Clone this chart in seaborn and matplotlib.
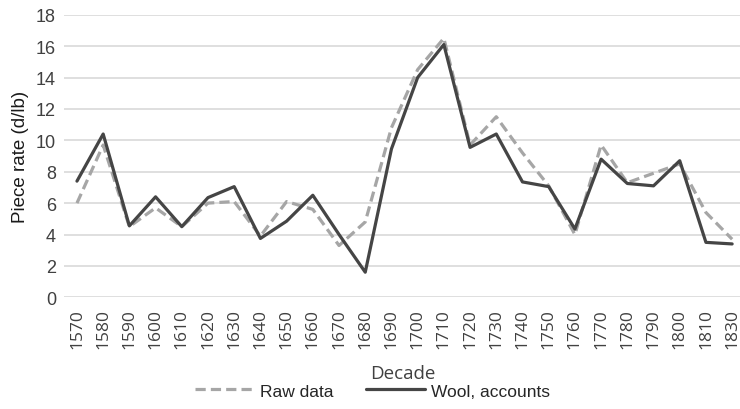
import matplotlib
matplotlib.use("Agg")
import matplotlib.pyplot as plt
import seaborn as sns
import pandas as pd

decades = ['1570', '1580', '1590', '1600', '1610', '1620', '1630', '1640', '1650',
           '1660', '1670', '1680', '1690', '1700', '1710', '1720', '1730', '1740',
           '1750', '1760', '1770', '1780', '1790', '1800', '1810', '1830']
raw_data = [6.0, 9.7, 4.5, 5.7, 4.5, 6.0, 6.1, 3.9, 6.1, 5.6, 3.3, 4.8, 10.8,
            14.5, 16.5, 9.7, 11.5, 9.2, 7.1, 4.0, 9.7, 7.3, 7.9, 8.5, 5.4, 3.7]
wool = [7.4, 10.4, 4.55, 6.4, 4.5, 6.35, 7.05, 3.75, 4.85, 6.5, 4.0, 1.6, 9.45,
        14.0, 16.1, 9.55, 10.4, 7.35, 7.05, 4.35, 8.8, 7.25, 7.1, 8.7, 3.5, 3.4]

df = pd.DataFrame({"Decade": decades, "Raw data": raw_data, "Wool, accounts": wool})

sns.set_style("white")
plt.rcParams['font.family'] = ['Liberation Sans', 'DejaVu Sans']

fig = plt.figure(figsize=(7.4, 4.1), dpi=100)
ax = fig.add_axes([0.087, 0.2724, 0.913, 0.6893])

sns.lineplot(data=df, x="Decade", y="Raw data", ax=ax, color="#a6a6a6",
             linewidth=2.3, linestyle=(0, (3.2, 1.6)), label="Raw data", sort=False)
sns.lineplot(data=df, x="Decade", y="Wool, accounts", ax=ax, color="#454545",
             linewidth=2.3, label="Wool, accounts", sort=False)

ax.set_ylim(0, 18)
ax.set_yticks(range(0, 19, 2))
ax.set_xlim(-0.48, 25.3)
ax.yaxis.grid(True, color="#d9d9d9", linewidth=1.2)
ax.set_axisbelow(True)
for s in ax.spines.values():
    s.set_visible(False)
ax.tick_params(axis='both', length=0)
ax.tick_params(axis='y', labelsize=13, labelcolor="#404040", pad=6)
ax.tick_params(axis='x', labelsize=12.5, labelcolor="#404040", pad=8)
for lbl in ax.get_xticklabels():
    lbl.set_rotation(90)
    lbl.set_family(['Open Sans', 'DejaVu Sans'])

ax.set_ylabel("Piece rate (d/lb)", fontsize=13.5, color="#1a1a1a", labelpad=5)
ax.set_xlabel("Decade", fontsize=13.5, color="#404040",
              family=['Open Sans', 'DejaVu Sans'])
ax.xaxis.set_label_coords(0.501, -0.236)

ax.legend(loc="center", bbox_to_anchor=(0.503, 1 - 392 / 410), bbox_transform=fig.transFigure,
          ncol=2, frameon=False, fontsize=12.5, handlelength=3.4, columnspacing=1.85,
          handletextpad=0.35, borderaxespad=0, borderpad=0)

fig.savefig("out.png", dpi=100)
